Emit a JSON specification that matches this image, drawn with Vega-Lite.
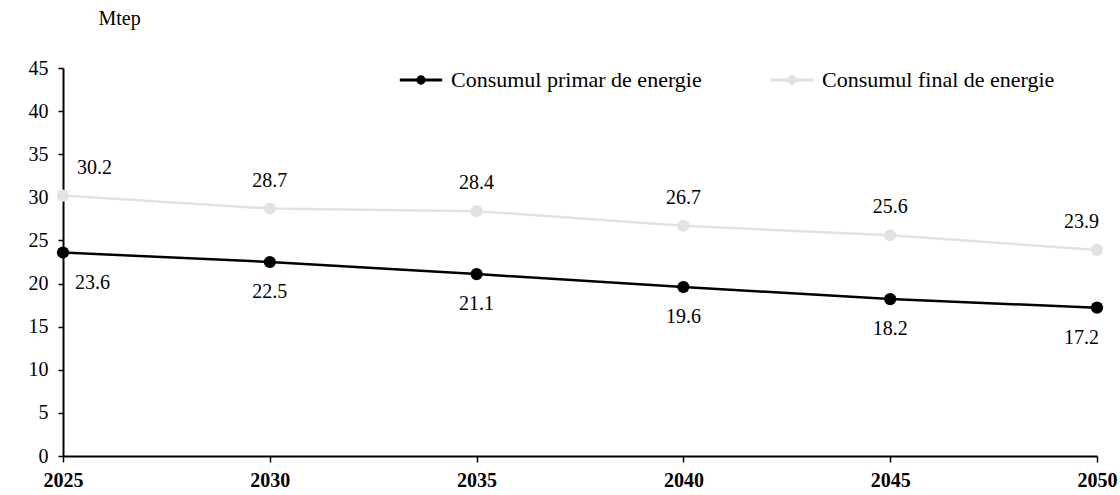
{
  "$schema": "https://vega.github.io/schema/vega-lite/v6.json",
  "width": 1034,
  "height": 388,
  "autosize": {"type": "none"},
  "padding": {"left": 63, "top": 68, "right": 23, "bottom": 39},
  "background": "white",
  "config": {
    "view": {"stroke": null},
    "font": "Liberation Serif, DejaVu Serif, serif",
    "text": {"font": "Liberation Serif, DejaVu Serif, serif"},
    "axis": {"labelFont": "Liberation Serif, DejaVu Serif, serif", "titleFont": "Liberation Serif, DejaVu Serif, serif", "domainColor": "#000", "tickColor": "#000", "labelColor": "#000", "titleColor": "#000", "grid": false, "domainWidth": 2, "tickWidth": 1.5},
    "legend": {"labelFont": "Liberation Serif, DejaVu Serif, serif"}
  },
  "data": {
    "values": [
      {"year": 2025, "serie": "Consumul primar de energie", "v": 23.6},
      {"year": 2030, "serie": "Consumul primar de energie", "v": 22.5},
      {"year": 2035, "serie": "Consumul primar de energie", "v": 21.1},
      {"year": 2040, "serie": "Consumul primar de energie", "v": 19.6},
      {"year": 2045, "serie": "Consumul primar de energie", "v": 18.2},
      {"year": 2050, "serie": "Consumul primar de energie", "v": 17.2},
      {"year": 2025, "serie": "Consumul final de energie", "v": 30.2},
      {"year": 2030, "serie": "Consumul final de energie", "v": 28.7},
      {"year": 2035, "serie": "Consumul final de energie", "v": 28.4},
      {"year": 2040, "serie": "Consumul final de energie", "v": 26.7},
      {"year": 2045, "serie": "Consumul final de energie", "v": 25.6},
      {"year": 2050, "serie": "Consumul final de energie", "v": 23.9}
    ]
  },
  "encoding": {
    "x": {
      "field": "year", "type": "quantitative",
      "scale": {"domain": [2025, 2050], "nice": false, "zero": false},
      "axis": {"values": [2025, 2030, 2035, 2040, 2045, 2050], "format": "d", "title": null, "labelFontSize": 20, "labelFontWeight": "bold", "labelPadding": 8, "tickSize": 6, "labelFlush": false}
    },
    "y": {
      "field": "v", "type": "quantitative",
      "scale": {"domain": [0, 45], "nice": false},
      "axis": {"values": [0, 5, 10, 15, 20, 25, 30, 35, 40, 45], "title": "Mtep", "titleAngle": 0, "titleAlign": "left", "titleBaseline": "middle", "titleX": 35, "titleY": -50, "titleFontSize": 20, "titleFontWeight": "normal", "labelFontSize": 20, "labelPadding": 10, "tickSize": 5}
    },
    "color": {
      "field": "serie", "type": "nominal",
      "scale": {"domain": ["Consumul primar de energie", "Consumul final de energie"], "range": ["#000000", "#e2e2e2"]},
      "legend": {
        "title": null, "orient": "none", "legendX": 335, "legendY": -11, "direction": "horizontal",
        "labelFontSize": 22, "labelColor": "#000", "labelLimit": 400,
        "symbolType": "M-1,0H1M-0.15,0a0.15,0.15 0 1,0 0.3,0a0.15,0.15 0 1,0 -0.3,0Z",
        "symbolSize": 1800, "symbolStrokeWidth": 3, "columnPadding": 62, "labelOffset": 7,
        "encode": {"symbols": {"update": {"fill": {"scale": "color", "field": "value"}}}}
      }
    }
  },
  "layer": [
    {"mark": {"type": "line", "strokeWidth": 2.5}},
    {"mark": {"type": "circle", "size": 150, "opacity": 1}, "encoding": {}},
    {
      "transform": [{"filter": "datum.serie === 'Consumul final de energie' && datum.year > 2025 && datum.year < 2050"}],
      "mark": {"type": "text", "fontSize": 20, "dy": -28, "align": "center"},
      "encoding": {"text": {"field": "v", "type": "quantitative", "format": ".1f"}, "color": {"value": "#000"}}
    },
    {
      "transform": [{"filter": "datum.serie === 'Consumul final de energie' && datum.year == 2025"}],
      "mark": {"type": "text", "fontSize": 20, "dy": -28, "dx": 14, "align": "left"},
      "encoding": {"text": {"field": "v", "type": "quantitative", "format": ".1f"}, "color": {"value": "#000"}}
    },
    {
      "transform": [{"filter": "datum.serie === 'Consumul final de energie' && datum.year == 2050"}],
      "mark": {"type": "text", "fontSize": 20, "dy": -28, "dx": 2, "align": "right"},
      "encoding": {"text": {"field": "v", "type": "quantitative", "format": ".1f"}, "color": {"value": "#000"}}
    },
    {
      "transform": [{"filter": "datum.serie === 'Consumul primar de energie' && datum.year > 2025 && datum.year < 2050"}],
      "mark": {"type": "text", "fontSize": 20, "dy": 30, "align": "center"},
      "encoding": {"text": {"field": "v", "type": "quantitative", "format": ".1f"}, "color": {"value": "#000"}}
    },
    {
      "transform": [{"filter": "datum.serie === 'Consumul primar de energie' && datum.year == 2025"}],
      "mark": {"type": "text", "fontSize": 20, "dy": 30, "dx": 12, "align": "left"},
      "encoding": {"text": {"field": "v", "type": "quantitative", "format": ".1f"}, "color": {"value": "#000"}}
    },
    {
      "transform": [{"filter": "datum.serie === 'Consumul primar de energie' && datum.year == 2050"}],
      "mark": {"type": "text", "fontSize": 20, "dy": 30, "dx": 2, "align": "right"},
      "encoding": {"text": {"field": "v", "type": "quantitative", "format": ".1f"}, "color": {"value": "#000"}}
    }
  ]
}
